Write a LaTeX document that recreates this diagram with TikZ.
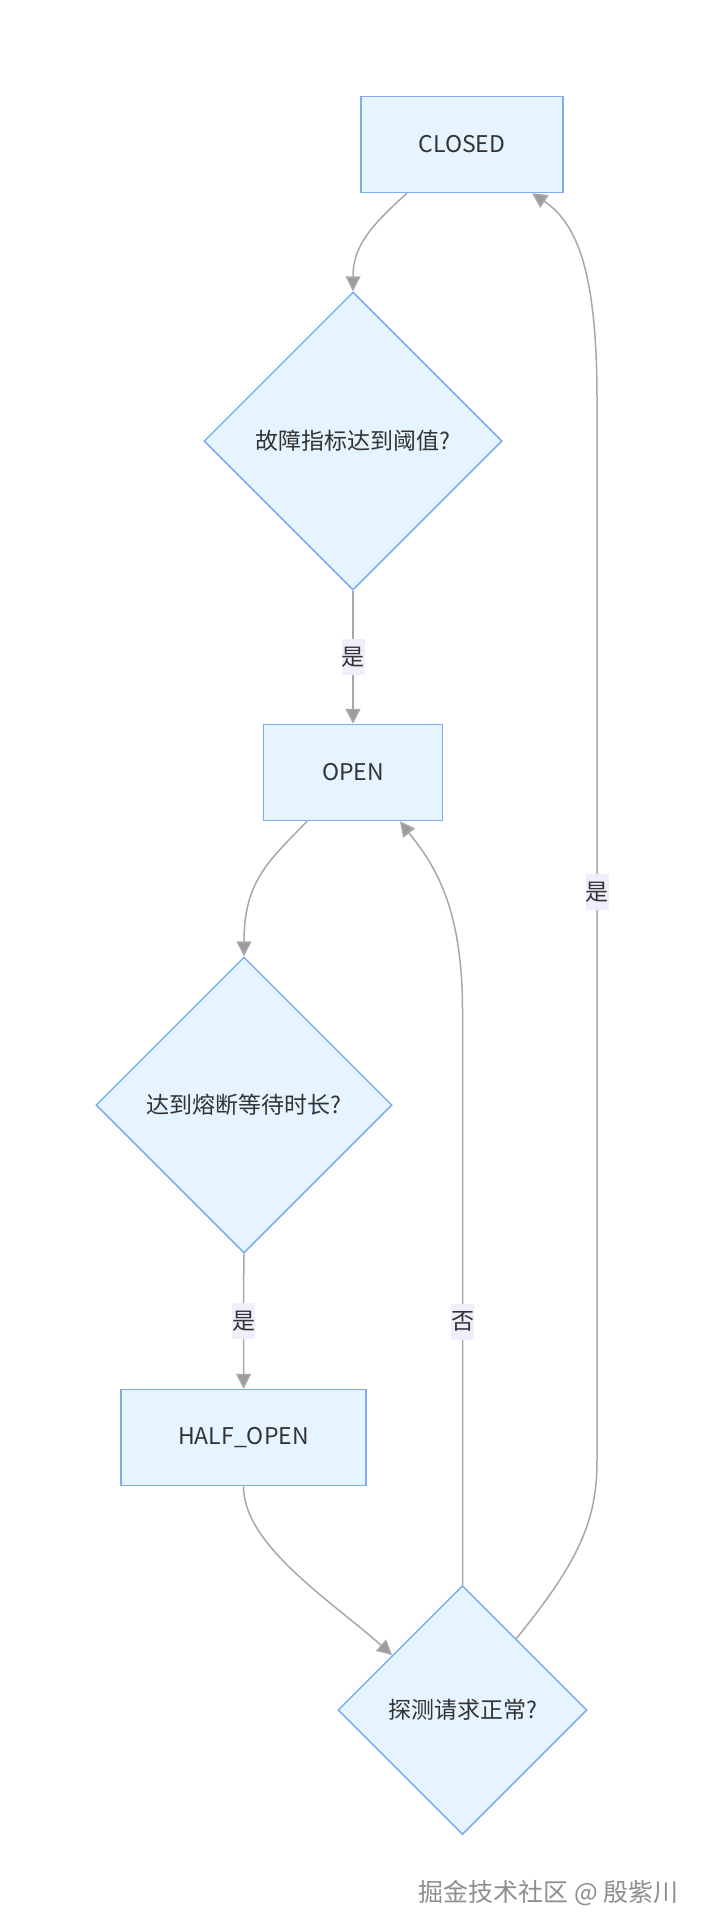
\documentclass[tikz,border=0pt]{standalone}
\usepackage{fontspec}
\usetikzlibrary{shapes.geometric,arrows.meta,calc}
\newfontfamily\cjkfont{Noto Sans CJK SC}
\definecolor{statefill}{HTML}{E6F4FF}
\definecolor{stateline}{HTML}{7EACEF}
\definecolor{flowline}{HTML}{A8A8A8}
\definecolor{tipfill}{HTML}{9C9C9C}
\definecolor{labelfill}{HTML}{F1EDFA}
\definecolor{inktext}{HTML}{333333}
\definecolor{stampgray}{HTML}{8E8E8E}

\begin{document}
\begin{tikzpicture}[x=1pt,y=-1pt,
	state/.style={rectangle,draw=stateline,fill=statefill,line width=1.5pt,text=inktext,
		font=\cjkfont\fontsize{23}{28}\selectfont,inner sep=0pt,minimum height=96pt},
	check/.style={diamond,aspect=1,draw=stateline,fill=statefill,line width=1.5pt,text=inktext,
		font=\cjkfont\fontsize{23}{28}\selectfont,inner sep=0pt,minimum width=#1,minimum height=#1},
	flow/.style={draw=flowline,line width=1.5pt,-{Triangle[length=15pt,width=15pt,fill=tipfill]}},
	answer/.style={fill=labelfill,text=inktext,font=\cjkfont\fontsize{23}{28}\selectfont,
		inner sep=0pt,minimum width=23pt,minimum height=36pt},
	stamp/.style={text=stampgray,font=\cjkfont\fontsize{25}{30}\selectfont,inner sep=0pt}]
\useasboundingbox (0,0) rectangle (705,1930);

\node[state,minimum width=202pt] (closed) at (462,144.5) {CLOSED}; % top state
\node[check=298pt] (d1) at (353,441) {故障指标达到阈值?};
\node[state,minimum width=179pt] (open) at (353,772.5) {OPEN};
\node[check=296pt] (d2) at (244,1105) {达到熔断等待时长?};
\node[state,minimum width=245pt] (half) at (243.5,1437.5) {HALF\_OPEN};
\node[check=249pt] (d3) at (462.5,1710) {探测请求正常?};

\draw[flow] ($(closed.south)+(-55,0)$) .. controls (368,228) and (353,248) .. (d1.north);
\draw[flow] (d1) -- node[answer] {是} (open);
\draw[flow] ($(open.south)+(-46,0)$) .. controls (270,860) and (244,880) .. (d2.north);
\draw[flow] (d2) -- node[answer] {是} (half);
\draw[flow] (half.south) .. controls (243.5,1545) and (330,1600) .. (d3.142);

% back edges
\draw[flow] (d3.north) -- node[answer,pos=0.458] {否} (462.5,1010)
	.. controls (462.5,900) and (430,860) .. ($(open.south)+(47,0)$);
\draw[flow] (d3.53) .. controls (580,1560) and (597,1520) .. (597,1460)
	-- node[answer,pos=0.536] {是} (597,400)
	.. controls (597,280) and (580,225) .. ($(closed.south)+(70,0)$);

\node[stamp,anchor=east] (credit) at (679,1893) {掘金技术社区 @ 殷紫川};
\end{tikzpicture}
\end{document}
